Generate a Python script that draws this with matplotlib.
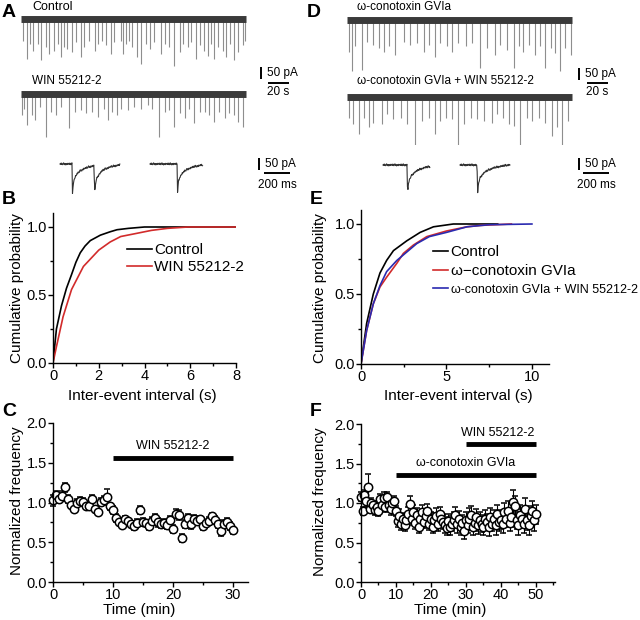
import numpy as np
import matplotlib
matplotlib.use("Agg")
import matplotlib.pyplot as plt
from matplotlib.ticker import MultipleLocator

plt.rcParams["font.family"] = ["Liberation Sans", "DejaVu Sans"]

# ---------------- data ----------------
# long sweeps: event time (s) and amplitude (pA)
CTRL_A_T = [2, 6, 9, 11, 16, 19, 24, 27, 31, 35, 38, 41, 44, 49, 52, 57, 60, 65, 70, 73,
            77, 81, 86, 89, 95, 97, 100, 103, 106, 110, 114, 119, 123, 127, 133, 137, 141, 146, 151, 154,
            159, 162, 167, 170, 174, 178, 181, 184, 188, 192, 195, 199, 203, 207, 211, 213]
CTRL_A_AMP = [92, 170, 106, 135, 106, 177, 121, 149, 135, 106, 163, 121, 128, 142, 99, 163, 121, 92, 135, 106,
              92, 113, 149, 99, 92, 149, 106, 92, 121, 163, 191, 106, 128, 99, 149, 106, 121, 199, 142, 106,
              121, 99, 170, 113, 135, 156, 106, 170, 121, 135, 163, 106, 177, 142, 113, 92]
WIN_A_T = [1, 3, 6, 10, 13, 18, 24, 29, 33, 38, 46, 51, 57, 62, 68, 73, 79, 83, 87, 91,
           95, 102, 108, 114, 121, 125, 131, 137, 141, 146, 151, 156, 160, 165, 170, 175, 179, 184, 189, 194,
           198, 203, 207, 211]
WIN_A_AMP = [88, 60, 130, 88, 109, 52, 180, 74, 88, 52, 145, 74, 67, 81, 74, 95, 60, 109, 74, 88,
             60, 67, 52, 60, 45, 60, 180, 74, 67, 138, 81, 102, 60, 123, 74, 74, 88, 116, 74, 102,
             81, 88, 116, 138]
CTX_D_T = [2, 5, 8, 14, 19, 25, 30, 35, 40, 46, 54, 60, 67, 73, 78, 84, 89, 95, 100, 106,
           113, 119, 127, 133, 141, 146, 152, 159, 164, 168, 173, 179, 184, 189, 194, 198, 203, 208, 213]
CTX_D_AMP = [135, 220, 113, 213, 92, 106, 121, 135, 113, 149, 92, 106, 99, 135, 106, 156, 99, 113, 135, 99,
             113, 99, 206, 121, 149, 106, 128, 206, 113, 135, 106, 149, 113, 206, 121, 142, 220, 121, 149]
CTXWIN_D_T = [2, 6, 11, 16, 21, 25, 33, 38, 44, 51, 57, 65, 71, 78, 84, 89, 94, 100, 106, 111,
              118, 124, 130, 138, 143, 149, 154, 159, 165, 171, 176, 183, 189, 195, 200, 205, 210]
CTXWIN_D_AMP = [88, 116, 159, 88, 130, 109, 116, 74, 95, 88, 116, 216, 102, 88, 159, 102, 88, 95, 216, 116,
                88, 95, 102, 109, 74, 88, 116, 123, 216, 88, 102, 88, 109, 166, 130, 208, 102]
SWEEP_LEN = 214  # s

# example events: (segment length ms, event times ms, amplitudes pA)
SAMPLE_A = [(462, [92, 262], [124, 118]), (408, [208], [118])]
SAMPLE_D = [(362, [185], [122]), (385, [131], [122])]
EPSC_T = [0, 4, 12, 24, 40, 60, 90, 130, 180, 240]
EPSC_SHAPE = [0, 1, 0.62, 0.45, 0.34, 0.25, 0.17, 0.1, 0.05, 0]
NOISE = [0, 3, -2, 4, -1, -3, 2, 5, -2, 1, -4, 2, 0, -3, 3, -1]

# cumulative probability curves
B_CTRL_X = [0, 0.15, 0.37, 0.59, 0.81, 1.0, 1.19, 1.4, 1.63, 2.07, 2.5, 2.8, 3.3, 4.0, 5.0, 6.0, 8.0]
B_CTRL_Y = [0, 0.25, 0.42, 0.55, 0.65, 0.74, 0.81, 0.86, 0.90, 0.94, 0.965, 0.98, 0.99, 1.0, 1.0, 1.0, 1.0]
B_WIN_X = [0, 0.15, 0.44, 0.81, 1.33, 2.0, 2.5, 2.96, 3.56, 4.3, 5.0, 5.9, 8.0]
B_WIN_Y = [0, 0.12, 0.34, 0.54, 0.71, 0.83, 0.89, 0.93, 0.95, 0.975, 0.99, 1.0, 1.0]

E_CTRL_X = [0, 0.33, 0.72, 1.11, 1.5, 1.9, 2.68, 3.46, 4.24, 5.4, 8.0]
E_CTRL_Y = [0, 0.29, 0.50, 0.65, 0.74, 0.81, 0.88, 0.94, 0.98, 1.0, 1.0]
E_CTX_X = [0, 0.33, 0.72, 1.11, 1.5, 2.1, 2.48, 3.07, 3.85, 5.0, 6.2, 7.0, 8.8]
E_CTX_Y = [0, 0.24, 0.43, 0.55, 0.62, 0.72, 0.79, 0.85, 0.91, 0.95, 0.98, 0.99, 1.0]
E_CTXWIN_X = [0, 0.33, 0.72, 1.11, 1.5, 2.1, 2.68, 3.26, 4.0, 5.0, 6.2, 7.5, 10.0]
E_CTXWIN_Y = [0, 0.24, 0.43, 0.56, 0.66, 0.74, 0.80, 0.86, 0.91, 0.94, 0.98, 0.995, 1.0]

# normalized frequency time courses (0.5 min bins)
C_TIME = np.arange(0, 30.5, 0.5)
C_FREQ = [1.03, 1.10, 1.04, 1.08, 1.19, 1.05, 0.97, 0.92, 1.00, 1.02,
          1.01, 0.96, 0.95, 1.05, 0.92, 0.88, 1.01, 1.03, 1.07, 0.95,
          0.91, 0.81, 0.76, 0.72, 0.79, 0.77, 0.73, 0.70, 0.74, 0.90,
          0.75, 0.74, 0.70, 0.77, 0.81, 0.75, 0.73, 0.74, 0.72, 0.78,
          0.67, 0.86, 0.84, 0.55, 0.73, 0.80, 0.73, 0.79, 0.77, 0.79,
          0.70, 0.74, 0.77, 0.83, 0.78, 0.73, 0.64, 0.73, 0.76, 0.70,
          0.65]
C_ERR = [0.07, 0.05, 0.05, 0.06, 0.06, 0.05, 0.04, 0.04, 0.05, 0.05,
         0.05, 0.04, 0.04, 0.04, 0.04, 0.04, 0.05, 0.05, 0.10, 0.05,
         0.05, 0.05, 0.04, 0.04, 0.04, 0.04, 0.04, 0.04, 0.05, 0.05,
         0.05, 0.04, 0.05, 0.05, 0.05, 0.06, 0.05, 0.05, 0.05, 0.05,
         0.05, 0.06, 0.06, 0.05, 0.05, 0.06, 0.06, 0.05, 0.05, 0.04,
         0.05, 0.04, 0.05, 0.04, 0.05, 0.05, 0.06, 0.05, 0.05, 0.05,
         0.04]
F_TIME = np.arange(0, 50.5, 0.5)
F_FREQ = [1.08, 0.90, 1.10, 1.02, 1.20, 0.93, 1.00, 0.97, 0.91, 0.95,
          0.90, 1.05, 0.98, 1.06, 0.95, 1.07, 0.97, 0.92, 1.00, 1.03,
          0.90, 0.77, 0.84, 0.74, 0.80, 0.72, 0.78, 0.86, 0.99, 0.80,
          0.88, 0.75, 0.85, 0.70, 0.80, 0.88, 0.76, 0.83, 0.90, 0.74,
          0.80, 0.70, 0.78, 0.84, 0.73, 0.86, 0.80, 0.76, 0.72, 0.68,
          0.77, 0.70, 0.74, 0.79, 0.85, 0.73, 0.80, 0.69, 0.75, 0.65,
          0.78, 0.72, 0.80, 0.85, 0.70, 0.75, 0.82, 0.72, 0.78, 0.74,
          0.70, 0.80, 0.76, 0.69, 0.82, 0.74, 0.80, 0.72, 0.86, 0.76,
          0.79, 0.73, 0.88, 0.80, 0.90, 0.75, 0.82, 1.01, 0.96, 0.78,
          0.72, 0.85, 0.80, 0.74, 0.93, 0.78, 0.72, 0.83, 0.90, 0.78,
          0.86]
F_ERR = [0.06, 0.05, 0.06, 0.07, 0.17, 0.06, 0.06, 0.05, 0.06, 0.07,
         0.06, 0.07, 0.06, 0.08, 0.06, 0.07, 0.06, 0.07, 0.06, 0.06,
         0.06, 0.07, 0.08, 0.08, 0.07, 0.08, 0.08, 0.09, 0.10, 0.08,
         0.09, 0.08, 0.09, 0.08, 0.09, 0.09, 0.08, 0.09, 0.09, 0.08,
         0.09, 0.08, 0.09, 0.10, 0.09, 0.09, 0.08, 0.09, 0.10, 0.09,
         0.09, 0.10, 0.09, 0.10, 0.10, 0.11, 0.10, 0.10, 0.10, 0.10,
         0.11, 0.10, 0.14, 0.11, 0.10, 0.11, 0.10, 0.11, 0.10, 0.11,
         0.10, 0.11, 0.10, 0.11, 0.12, 0.10, 0.11, 0.12, 0.11, 0.11,
         0.12, 0.11, 0.12, 0.11, 0.13, 0.11, 0.12, 0.15, 0.13, 0.11,
         0.12, 0.13, 0.12, 0.12, 0.13, 0.12, 0.12, 0.13, 0.12, 0.13,
         0.12]

RED = "#d22b2b"
BLUE = "#2a2ab0"

# ---------------- layout helpers ----------------
W, H = 640, 620
fig = plt.figure(figsize=(W / 100, H / 100), dpi=100)

PX_PER_S = 21 / 20
PX_PER_MS = 26 / 200
PX_PER_PA = 11.7 / 50


def add_ax(x0, y0, x1, y1):
    return fig.add_axes([x0 / W, 1 - y1 / H, (x1 - x0) / W, (y1 - y0) / H])


def at(ax, x, y):
    return ax.transData.inverted().transform((x, H - y))


def ftext(x, y, s, **kw):
    fig.text(x / W, 1 - y / H, s, **kw)


def scale_bar(ax, vx, vy, hx, hy, dy, dx, ylab, xlab, xlab_y):
    x, y = at(ax, vx, vy)
    ax.plot([x, x], [y, y - dy], color="black", lw=1.4, solid_capstyle="butt")
    tx, _ = at(ax, vx + 6, vy)
    ax.text(tx, y - dy / 2, ylab, ha="left", va="center", fontsize=8.5)
    x2, y2 = at(ax, hx, hy)
    ax.plot([x2, x2 + dx], [y2, y2], color="black", lw=1.4, solid_capstyle="butt")
    _, ty2 = at(ax, hx, xlab_y)
    ax.text(x2 + dx / 2, ty2, xlab, ha="center", va="center", fontsize=8.5)


def sweep_axes(x0):
    ax = add_ax(x0, 0, x0 + 290, 145)
    ax.set_xlim(0, 290 / PX_PER_S)
    ax.set_ylim(-145 / PX_PER_PA, 0)
    ax.axis("off")
    return ax


def draw_sweep(ax, base_px, times, amps):
    _, base = at(ax, 0, base_px)
    ax.vlines(times, base - np.asarray(amps), base, color="#8e8e8e", lw=0.8)
    ax.plot([0, SWEEP_LEN], [base, base], color="#3a3a3a", lw=5, solid_capstyle="butt")


def sample_axes(x0):
    ax = add_ax(x0, 145, x0 + 270, 205)
    ax.set_xlim(0, 270 / PX_PER_MS)
    ax.set_ylim(-60 / PX_PER_PA, 0)
    ax.axis("off")
    return ax


def draw_sample(ax, x_px, base_px, seg):
    t0, base = at(ax, x_px, base_px)
    length, ev_t, ev_amp = seg
    t = np.arange(0, length, 4.0)
    y = np.resize(NOISE, t.size).astype(float)
    for e, a in zip(ev_t, ev_amp):
        y -= a * np.interp(t - e, EPSC_T, EPSC_SHAPE, left=0, right=0)
    ax.plot(t0 + t, base + y, color="#333333", lw=0.8)


def style_axes(ax, xmaj, xmin, ymaj, ymin):
    for s in ["top", "right"]:
        ax.spines[s].set_visible(False)
    for s in ["left", "bottom"]:
        ax.spines[s].set_linewidth(1.0)
    ax.xaxis.set_major_locator(MultipleLocator(xmaj))
    ax.xaxis.set_minor_locator(MultipleLocator(xmin))
    ax.yaxis.set_major_locator(MultipleLocator(ymaj))
    ax.yaxis.set_minor_locator(MultipleLocator(ymin))
    ax.tick_params(which="major", direction="out", length=3.5, width=1, labelsize=10.5, pad=0.8)
    ax.tick_params(which="minor", direction="out", length=2.2, width=1)
    ax.yaxis.set_major_formatter(matplotlib.ticker.FormatStrFormatter("%.1f"))


def place_labels(ax, xlab, xpos, ylab, ypos):
    ax.set_xlabel(xlab, fontsize=11, va="center")
    ax.set_ylabel(ylab, fontsize=11, va="center")
    ax.xaxis.set_label_coords(xpos[0] / W, 1 - xpos[1] / H, transform=fig.transFigure)
    ax.yaxis.set_label_coords(ypos[0] / W, 1 - ypos[1] / H, transform=fig.transFigure)


# ---------------- A ----------------
axA = sweep_axes(21)
draw_sweep(axA, 19, CTRL_A_T, CTRL_A_AMP)
draw_sweep(axA, 94.5, WIN_A_T, WIN_A_AMP)
scale_bar(axA, 261, 67, 268, 83, 50, 20, "50 pA", "20 s", 92.5)
axAs = sample_axes(40)
draw_sample(axAs, 60, 164, SAMPLE_A[0])
draw_sample(axAs, 150, 164, SAMPLE_A[1])
scale_bar(axAs, 259, 158, 264, 173, 50, 200, "50 pA", "200 ms", 185)
ftext(32, 6.5, "Control", fontsize=9, va="center")
ftext(32, 80.5, "WIN 55212-2", fontsize=8.5, va="center")

# ---------------- D ----------------
axD = sweep_axes(347)
draw_sweep(axD, 20, CTX_D_T, CTX_D_AMP)
draw_sweep(axD, 97, CTXWIN_D_T, CTXWIN_D_AMP)
scale_bar(axD, 579, 68, 587, 83, 50, 20, "50 pA", "20 s", 92.5)
axDs = sample_axes(360)
draw_sample(axDs, 383, 165, SAMPLE_D[0])
draw_sample(axDs, 460, 165, SAMPLE_D[1])
scale_bar(axDs, 579, 158, 583, 173, 50, 200, "50 pA", "200 ms", 185)
ftext(357, 6.5, "ω-conotoxin GVIa", fontsize=8.5, va="center")
ftext(357, 80.5, "ω-conotoxin GVIa + WIN 55212-2", fontsize=8.5, va="center")

# ---------------- B ----------------
axB = add_ax(53, 213.4, 236, 363)
axB.plot(B_CTRL_X, B_CTRL_Y, color="black", lw=1.2, label="Control")
axB.plot(B_WIN_X, B_WIN_Y, color=RED, lw=1.2, label="WIN 55212-2")
axB.set_xlim(0, 8)
axB.set_ylim(0, 1.1)
style_axes(axB, 2, 1, 0.5, 0.25)
place_labels(axB, "Inter-event interval (s)", (142, 396), "Cumulative probability", (17, 288))
axB.legend(loc="upper left", bbox_to_anchor=(127 / W, 1 - 243 / H), bbox_transform=fig.transFigure,
           frameon=False, fontsize=11, borderpad=0, handlelength=1.63, handletextpad=0.15,
           labelspacing=0.2, borderaxespad=0)

# ---------------- E ----------------
axE = add_ax(361, 210, 549, 364)
axE.plot(E_CTRL_X, E_CTRL_Y, color="black", lw=1.2, label="Control")
axE.plot(E_CTX_X, E_CTX_Y, color=RED, lw=1.2, label="ω\u2212conotoxin GVIa")
axE.plot(E_CTXWIN_X, E_CTXWIN_Y, color=BLUE, lw=1.2, label="ω-conotoxin GVIa + WIN 55212-2")
axE.set_xlim(0, 11)
axE.set_ylim(0, 1.1)
style_axes(axE, 5, 2.5, 0.5, 0.25)
place_labels(axE, "Inter-event interval (s)", (458, 396), "Cumulative probability", (320, 288))
legE = axE.legend(loc="upper left", bbox_to_anchor=(433 / W, 1 - 245 / H), bbox_transform=fig.transFigure,
                  frameon=False, fontsize=11, borderpad=0, handlelength=1.0, handletextpad=0.15,
                  labelspacing=0.32, borderaxespad=0)
legE.get_texts()[2].set_fontsize(9)


# ---------------- C / F ----------------
def time_course(ax, t, f, e):
    cont = ax.errorbar(t, f, yerr=e, fmt="o", ms=6, mfc="white", mec="black", mew=1.1,
                       ecolor="black", elinewidth=0.8, capsize=2, capthick=0.8)
    for art in cont.get_children():
        art.set_clip_on(False)


def drug_bar(ax, t0, t1, y, label, ty, tx):
    ax.plot([t0, t1], [y, y], color="black", lw=3.5, solid_capstyle="butt")
    ax.text(tx, ty, label, ha="center", va="center", fontsize=9)


axC = add_ax(53, 423, 248, 582)
time_course(axC, C_TIME, C_FREQ, C_ERR)
drug_bar(axC, 10, 30, 1.56, "WIN 55212-2", 1.71, 20)
axC.set_xlim(0, 32.5)
axC.set_ylim(0, 2)
style_axes(axC, 10, 5, 0.5, 0.25)
place_labels(axC, "Time (min)", (139, 610), "Normalized frequency", (17, 501))

axF = add_ax(361, 424, 555, 582)
time_course(axF, F_TIME, F_FREQ, F_ERR)
drug_bar(axF, 30, 50, 1.75, "WIN 55212-2", 1.89, 39)
drug_bar(axF, 10, 50, 1.35, "ω-conotoxin GVIa", 1.50, 30)
axF.set_xlim(0, 55.5)
axF.set_ylim(0, 2)
style_axes(axF, 10, 5, 0.5, 0.25)
place_labels(axF, "Time (min)", (450, 610), "Normalized frequency", (320, 502))

# panel letters
for letter, (x, y) in zip("ABCDEF", [(2, 12.5), (2, 200), (2, 411), (307, 12.5), (310, 200), (310, 411)]):
    ftext(x, y, letter, fontsize=14, fontweight="bold", va="center")

fig.savefig("out.png", dpi=100)
